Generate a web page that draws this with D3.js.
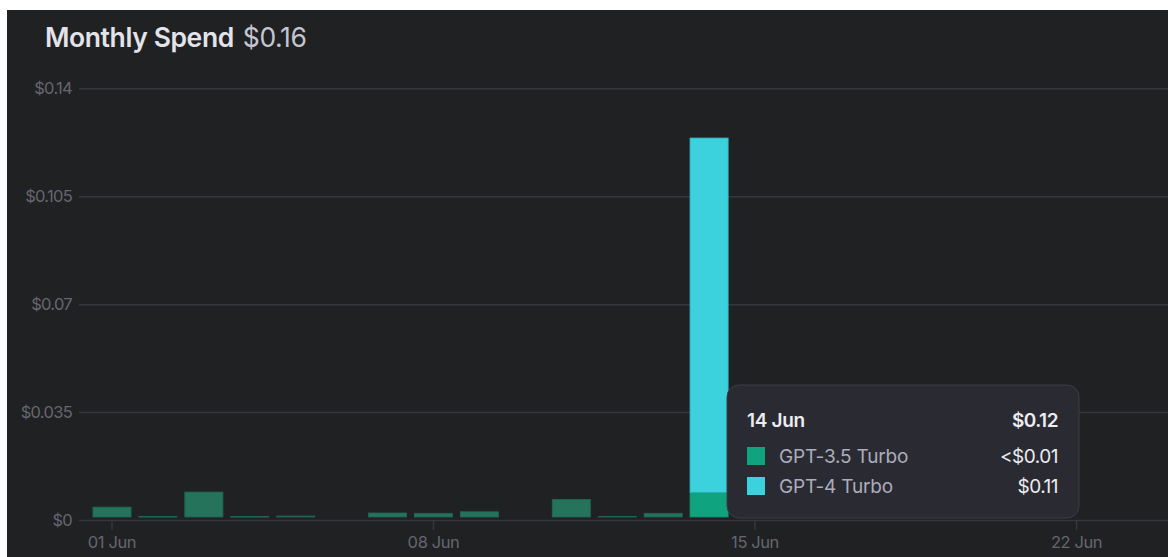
<!DOCTYPE html>
<html><head><meta charset="utf-8">
<script src="https://cdn.jsdelivr.net/npm/d3@7"></script>
<style>
html,body{margin:0;padding:0;background:#fff;}
svg{display:block;font-family:Inter,"Noto Sans",sans-serif;}
</style></head>
<body><svg id="c" width="1168" height="557"></svg>
<script>
// ---- data ----
const days = d3.range(1, 31);
const series = ["GPT-3.5 Turbo", "GPT-4 Turbo"];
const gpt35 = [0.0032,0.00015,0.0081,0.00015,0.0003,0,0.0013,0.0012,0.0017,0,0.0057,0.0002,0.0012,0.0080,0,0,0,0,0,0,0,0,0,0,0,0,0,0,0,0];
const gpt4  = [0,0,0,0,0,0,0,0,0,0,0,0,0,0.1149,0,0,0,0,0,0,0,0,0,0,0,0,0,0,0,0];
const yTicks = [0, 0.035, 0.07, 0.105, 0.14];
const yTickLabels = ["$0", "$0.035", "$0.07", "$0.105", "$0.14"];
const xTickDays = [1, 8, 15, 22];
const xTickLabels = ["01 Jun", "08 Jun", "15 Jun", "22 Jun"];
const title = "Monthly Spend";
const titleTotal = "$0.16";
const hoverDay = 14;
const tooltipRows = [["GPT-3.5 Turbo", "<$0.01"], ["GPT-4 Turbo", "$0.11"]];
const tooltipTotal = "$0.12";
const tooltipDate = "14 Jun";

// ---- layout ----
const W = 1168, H = 557;
const svg = d3.select("#c");
const colors = {bg:"#202123", grid:"#36373e", label:"#66666f", dim:"#24735a", g35:"#10a37f", g4:"#3bd2dd"};

svg.append("rect").attr("x",7).attr("y",10).attr("width",W-7).attr("height",H-10).attr("fill",colors.bg);

const step = 45.93;
const x0 = 112 - step/2;
const x = d3.scaleBand().domain(days).range([x0, x0 + step*days.length]).paddingInner(0.17).paddingOuter(0.085);
const y = d3.scaleLinear().domain([0, 0.14]).range([520, 88.3]);

// title
const t = svg.append("text").attr("x",45).attr("y",47).attr("font-size",26.5).attr("letter-spacing",-0.4);
t.append("tspan").attr("font-weight",600).attr("fill","#e3e3ea").text(title);
t.append("tspan").attr("font-weight",400).attr("fill","#c5c5d2").attr("dx",9).text(titleTotal);

// grid + y labels
const yAxis = d3.axisLeft(y).tickValues(yTicks).tickFormat((d,i)=>yTickLabels[i]).tickSize(-(W-79)).tickPadding(7);
const gy = svg.append("g").attr("transform","translate(79,0)").call(yAxis);
gy.select(".domain").remove();
gy.selectAll(".tick line").attr("stroke",colors.grid).attr("stroke-width",1.5);
gy.selectAll(".tick text").attr("fill",colors.label).attr("font-size",16.5).attr("letter-spacing",-0.7).attr("font-family","Inter,sans-serif");

// x axis
const xAxis = d3.axisBottom(x).tickValues(xTickDays).tickFormat(d=>xTickLabels[xTickDays.indexOf(d)]).tickSize(10).tickPadding(6);
const gx = svg.append("g").attr("transform",`translate(0,${y(0)})`).call(xAxis);
gx.select(".domain").remove();
gx.selectAll(".tick line").attr("stroke",colors.grid).attr("stroke-width",1.5);
gx.selectAll(".tick text").attr("fill",colors.label).attr("font-size",16.5).attr("letter-spacing",-0.4).attr("font-family","Inter,sans-serif");

// bars
const table = days.map((d,i)=>({day:d, "GPT-3.5 Turbo":gpt35[i], "GPT-4 Turbo":gpt4[i]}));
const stack = d3.stack().keys(series)(table);
const bars = svg.append("g").attr("transform","translate(0,-3)");
stack.forEach((layer, li) => {
  bars.selectAll(null).data(layer.filter(d=>d[1]-d[0]>0)).join("rect")
    .attr("x", d=>x(d.data.day))
    .attr("width", x.bandwidth())
    .attr("y", d=>y(d[1]))
    .attr("height", d=>Math.max(0.6, y(d[0])-y(d[1])))
    .attr("fill", d=> li===0 ? (d.data.day===hoverDay ? colors.g35 : colors.dim) : colors.g4)
    .attr("stroke", d=> li===0 ? (d.data.day===hoverDay ? "#0e8e6f" : "#1f6650") : "#2fb3bd")
    .attr("stroke-width", 0.8);
});

// tooltip
const tip = svg.append("g");
tip.append("rect").attr("x",727).attr("y",385).attr("width",352).attr("height",133).attr("rx",12)
  .attr("fill","#2a2b32").attr("stroke","#3c3d47").attr("stroke-width",1);
tip.append("text").attr("x",747).attr("y",427).attr("font-size",19).attr("font-weight",600).attr("fill","#ececf1").attr("letter-spacing",-0.3).text(tooltipDate);
tip.append("text").attr("x",1058).attr("y",427).attr("text-anchor","end").attr("font-size",19).attr("font-weight",600).attr("fill","#ececf1").attr("letter-spacing",-0.5).text(tooltipTotal);
const rowColors = [colors.g35, colors.g4];
tooltipRows.forEach((r,i)=>{
  const by = 463 + i*30;
  tip.append("rect").attr("x",747).attr("y",by-16).attr("width",18).attr("height",18).attr("fill",rowColors[i]);
  tip.append("text").attr("x",779).attr("y",by).attr("font-size",19).attr("fill","#acacbc").attr("letter-spacing",-0.2).text(r[0]);
  tip.append("text").attr("x",1058).attr("y",by).attr("text-anchor","end").attr("font-size",19).attr("fill","#ececf1").attr("letter-spacing",-0.5).text(r[1]);
});
</script></body></html>
